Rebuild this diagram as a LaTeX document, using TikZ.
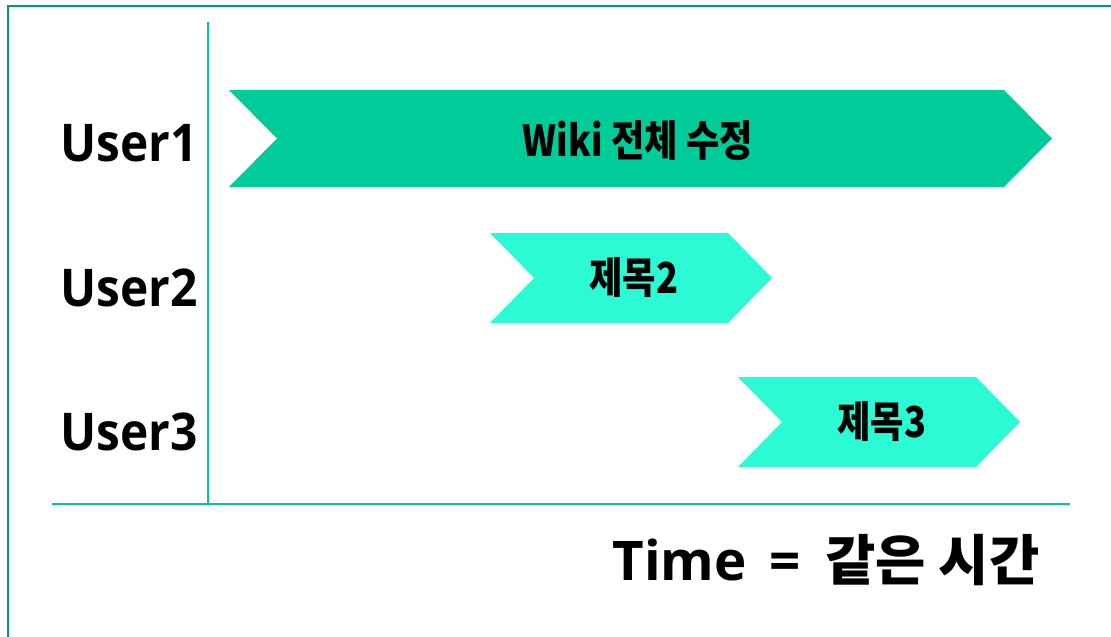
\documentclass[tikz,border=0pt]{standalone}
\usepackage{fontspec}
\usepackage{xcolor}
\setmainfont{Open Sans}
\newfontfamily\userfont{Open Sans}[FakeStretch=0.92]
\newfontfamily\kr{Noto Sans CJK KR}
\newfontfamily\krnarrow{Noto Sans CJK KR}[FakeStretch=0.85]
\definecolor{frame}{HTML}{00996B}
\definecolor{axis}{HTML}{00C896}
\definecolor{darkbar}{HTML}{00CC99}
\definecolor{lightbar}{HTML}{2CFAD5}
% chevron: left x, right x, top y, bottom y, depth, colour
\newcommand{\chevbar}[6]{
    \fill[#6] (#1, #3) -- (#2, #3) -- ({#2+#5}, {(#3+#4)/2}) -- (#2, #4)
        -- (#1, #4) -- ({#1+#5}, {(#3+#4)/2}) -- cycle;
}

\begin{document}
\begin{tikzpicture}[x=0.75pt, y=-0.75pt,
        barlabel/.style={inner sep=0pt, font=\krnarrow\bfseries\fontsize{32}{32}\selectfont}]
        \useasboundingbox (0, 0) rectangle (1111, 636);
        \draw[frame, line width=2.2pt] (8, 6) rectangle (1130, 660);
        % axes
        \coordinate (top) at (208, 22);
        \coordinate (corner) at (208, 504);
        \coordinate (left) at (52, 504);
        \coordinate (right) at (1070, 504);
        \draw[axis, line width=1.6pt] (top) -- (corner);
        \draw[axis, line width=1.6pt] (left) -- (right);
        % bars
        \chevbar{229}{1004}{90}{187}{48}{darkbar}
        \chevbar{490}{728}{233}{323}{44}{lightbar}
        \chevbar{738}{976}{377}{467}{44}{lightbar}
        % labels
        \foreach \i/\y in {1/143, 2/288, 3/432} {
            \node[anchor=east, inner sep=0pt, font=\userfont\bfseries\fontsize{39}{39}\selectfont] (user\i) at (198, \y) {User\i};
        }
        \node[barlabel] (wiki) at (638, 141) {Wiki 전체 수정};
        \node[barlabel] (title2) at (634, 278) {제목2};
        \node[barlabel] (title3) at (882, 422) {제목3};
        \node[inner sep=0pt, font=\bfseries\fontsize{41}{41}\selectfont] (time) at (826, 560) {Time\hspace{0.42em}=\hspace{0.45em}{\kr 같은 시간}};
    \end{tikzpicture}
\end{document}
